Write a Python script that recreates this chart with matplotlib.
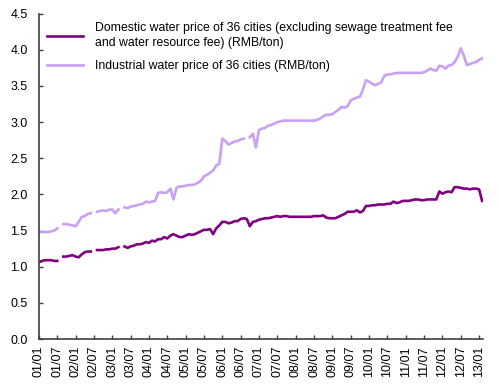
import numpy as np
import matplotlib
matplotlib.use('Agg')
import matplotlib.pyplot as plt

plt.rcParams['font.family'] = ['Liberation Sans', 'DejaVu Sans']

nan = np.nan

# monthly values, 2001/01 .. 2013/02
domestic = [1.06, 1.08, 1.09, 1.09, 1.09, 1.08, 1.08, nan, 1.14, 1.14, 1.15, 1.16,
            1.14, 1.13, 1.17, 1.20, 1.21, 1.21, nan, 1.23, 1.23, 1.23, 1.24, 1.24,
            1.25, 1.25, 1.27, nan, 1.28, 1.26, 1.28, 1.29, 1.31, 1.31, 1.32, 1.34,
            1.33, 1.36, 1.35, 1.38, 1.38, 1.41, 1.39, 1.43, 1.45, 1.43, 1.41, 1.41,
            1.43, 1.45, 1.44, 1.45, 1.47, 1.49, 1.51, 1.51, 1.52, 1.45, 1.53, 1.57,
            1.62, 1.62, 1.60, 1.61, 1.63, 1.63, 1.66, 1.67, 1.66, 1.56, 1.62, 1.63,
            1.65, 1.66, 1.67, 1.67, 1.68, 1.69, 1.70, 1.69, 1.70, 1.70, 1.69, 1.69,
            1.69, 1.69, 1.69, 1.69, 1.69, 1.69, 1.70, 1.70, 1.70, 1.71, 1.68, 1.67,
            1.67, 1.67, 1.69, 1.71, 1.73, 1.76, 1.76, 1.76, 1.78, 1.75, 1.77, 1.84,
            1.84, 1.85, 1.85, 1.86, 1.86, 1.86, 1.87, 1.87, 1.90, 1.88, 1.89, 1.91,
            1.91, 1.91, 1.92, 1.93, 1.93, 1.92, 1.92, 1.93, 1.93, 1.93, 1.93, 2.04,
            2.01, 2.03, 2.04, 2.03, 2.10, 2.10, 2.09, 2.08, 2.08, 2.07, 2.08, 2.08,
            2.07, 1.91]

industrial = [1.48, 1.48, 1.48, 1.48, 1.49, 1.50, 1.53, nan, 1.59, 1.59, 1.58, 1.57,
              1.56, 1.62, 1.69, 1.70, 1.73, 1.74, nan, 1.76, 1.77, 1.78, 1.77, 1.79,
              1.79, 1.74, 1.79, nan, 1.82, 1.81, 1.83, 1.84, 1.85, 1.86, 1.87, 1.90,
              1.89, 1.90, 1.91, 2.02, 2.03, 2.02, 2.03, 2.08, 1.93, 2.09, 2.11, 2.11,
              2.12, 2.13, 2.13, 2.14, 2.16, 2.19, 2.25, 2.27, 2.30, 2.33, 2.40, 2.42,
              2.77, 2.74, 2.69, 2.71, 2.73, 2.74, 2.76, 2.77, nan, 2.79, 2.84, 2.65,
              2.89, 2.91, 2.92, 2.95, 2.96, 2.98, 3.00, 3.01, 3.02, 3.02, 3.02, 3.02,
              3.02, 3.02, 3.02, 3.02, 3.02, 3.02, 3.02, 3.03, 3.05, 3.08, 3.10, 3.10,
              3.11, 3.14, 3.17, 3.21, 3.20, 3.22, 3.30, 3.32, 3.34, 3.35, 3.45, 3.58,
              3.56, 3.53, 3.51, 3.53, 3.55, 3.64, 3.66, 3.66, 3.67, 3.68, 3.68, 3.68,
              3.68, 3.68, 3.68, 3.68, 3.68, 3.68, 3.69, 3.71, 3.74, 3.72, 3.71, 3.78,
              3.77, 3.74, 3.78, 3.79, 3.83, 3.90, 4.02, 3.92, 3.79, 3.80, 3.82, 3.83,
              3.86, 3.88]

tick_labels = ['01/01', '01/07', '02/01', '02/07', '03/01', '03/07', '04/01', '04/07',
               '05/01', '05/07', '06/01', '06/07', '07/01', '07/07', '08/01', '08/07',
               '09/01', '09/07', '10/01', '10/07', '11/01', '11/07', '12/01', '12/07',
               '13/01']

label_dom = ('Domestic water price of 36 cities (excluding sewage treatment fee\n'
             'and water resource fee) (RMB/ton)')
label_ind = 'Industrial water price of 36 cities (RMB/ton)'

months = np.arange(len(domestic))

fig = plt.figure(figsize=(4.99, 3.89), dpi=100)
ax = fig.add_axes([0.078, 0.1285, 0.89, 0.8365])

ax.plot(months, domestic, color='#800080', lw=1.9, label=label_dom)
ax.plot(months, industrial, color='#c9a0f2', lw=1.9, label=label_ind)

ax.set_xlim(0, 145.3)
ax.set_ylim(0, 4.5)
ax.set_yticks(np.arange(0, 4.51, 0.5))
ax.set_yticklabels(['%.1f' % v for v in np.arange(0, 4.51, 0.5)])
ax.set_xticks(np.arange(0, 145, 6))
ax.set_xticklabels(tick_labels, rotation=90)

for s in ['top', 'right']:
    ax.spines[s].set_visible(False)
for s in ['left', 'bottom']:
    ax.spines[s].set_color('#404040')
    ax.spines[s].set_linewidth(1.2)
ax.tick_params(axis='both', direction='in', length=3, width=1, color='#404040',
               labelsize=9, labelcolor='black')
ax.tick_params(axis='y', pad=8)
ax.tick_params(axis='x', pad=5)

leg = ax.legend(loc='upper left', bbox_to_anchor=(0.0, 1.0), frameon=False,
                fontsize=8.8, handlelength=2.9, handletextpad=1.0, labelspacing=0.9,
                borderaxespad=0.3)
for t in leg.get_texts():
    t.set_linespacing(1.35)

fig.savefig('out.png', dpi=100)
